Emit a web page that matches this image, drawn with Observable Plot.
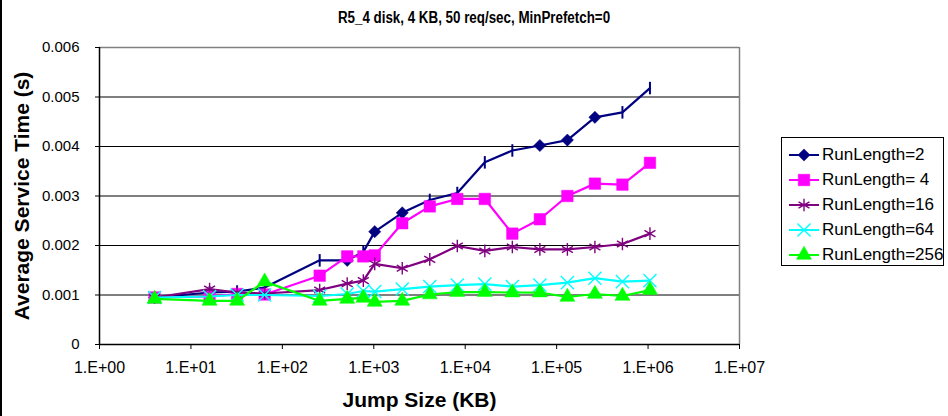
<!DOCTYPE html>
<html>
<head>
<meta charset="utf-8">
<script src="https://cdn.jsdelivr.net/npm/d3@7"></script>
<script src="https://cdn.jsdelivr.net/npm/@observablehq/plot@0.6"></script>
<style>
  body { margin: 0; background: #fff; }
  #wrap { position: relative; width: 948px; height: 416px; font-family: "Liberation Sans", Arial, sans-serif; overflow: hidden; }
  #border { position: absolute; left: 0; top: 0; width: 2px; height: 416px; background: #000; }
  #title { position: absolute; left: 0; width: 948px; top: 8px; text-align: center; font-weight: bold; font-size: 16px; line-height: 20px; transform: scaleX(0.835); }
  #legend { position: absolute; left: 781px; top: 137px; width: 163px; height: 129px; border: 1px solid #000; box-sizing: border-box; background: #fff; }
  .item { position: absolute; left: 6px; height: 22px; display: flex; align-items: center; font-size: 17px; white-space: nowrap; }
  .item svg { margin-right: 2px; }
</style>
</head>
<body>
<div id="wrap">
  <div id="border"></div>
  <div id="title">R5_4 disk, 4 KB, 50 req/sec, MinPrefetch=0</div>
  <div id="chart"></div>
  <div id="legend"></div>
</div>
<script>
// ---- data ----
const jumpSizes = [4, 16, 32, 64, 256, 512, 768, 1024, 2048, 4096, 8192, 16384, 32768, 65536, 131072, 262144, 524288, 1048576];
const runLength2   = [0.00095, 0.00105, 0.00107, 0.00115, 0.00170, 0.00170, 0.00187, 0.00228, 0.00266, 0.00292, 0.00306, 0.00368, 0.00392, 0.00402, 0.00413, 0.00459, 0.00469, 0.00518];
const runLength2Marker = ["diamond", "tick", "tick", "tick", "tick", "diamond", "tick", "diamond", "diamond", "tick", "tick", "tick", "tick", "diamond", "diamond", "diamond", "tick", "tick"];
const runLength4   = [0.00095, 0.00097, 0.00102, 0.00101, 0.00139, 0.00178, 0.00178, 0.00180, 0.00245, 0.00279, 0.00294, 0.00294, 0.00224, 0.00253, 0.00300, 0.00325, 0.00323, 0.00367];
const runLength16  = [0.00095, 0.00112, 0.00105, 0.00103, 0.00110, 0.00123, 0.00129, 0.00163, 0.00154, 0.00172, 0.00199, 0.00189, 0.00197, 0.00192, 0.00192, 0.00197, 0.00203, 0.00224];
const runLength64  = [0.00095, 0.00097, 0.00100, 0.00100, 0.00098, 0.00102, 0.00108, 0.00107, 0.00112, 0.00117, 0.00120, 0.00122, 0.00117, 0.00120, 0.00125, 0.00134, 0.00127, 0.00129];
const runLength256 = [0.00092, 0.00088, 0.00088, 0.00127, 0.00088, 0.00092, 0.00094, 0.00086, 0.00088, 0.00101, 0.00106, 0.00106, 0.00105, 0.00105, 0.00096, 0.00102, 0.00098, 0.00110];
const seriesNames = ["RunLength=2", "RunLength= 4", "RunLength=16", "RunLength=64", "RunLength=256"];
const xTicks = [1, 10, 100, 1000, 10000, 100000, 1000000, 10000000];
const xTickLabels = ["1.E+00", "1.E+01", "1.E+02", "1.E+03", "1.E+04", "1.E+05", "1.E+06", "1.E+07"];
const yTicks = [0, 0.001, 0.002, 0.003, 0.004, 0.005, 0.006];
const yTickLabels = ["0", "0.001", "0.002", "0.003", "0.004", "0.005", "0.006"];

// ---- styles ----
const tickSymbol = { draw(ctx, size) { const h = Math.sqrt(size / Math.PI) * 1.25; ctx.moveTo(0, -h); ctx.lineTo(0, h); } };
const styles = [
  { color: "#000080", symbol: "diamond2", r: 5.5, filled: true },
  { color: "#FF00FF", symbol: "square", r: 6.5, filled: true },
  { color: "#800080", symbol: "asterisk", r: 6, filled: false },
  { color: "#00FFFF", symbol: "times", r: 6, filled: false },
  { color: "#00FF00", symbol: "triangle", r: 5.6, filled: true }
];
const allValues = [runLength2, runLength4, runLength16, runLength64, runLength256];
const rows = allValues.map((vals, s) => vals.map((v, i) => ({ s, name: seriesNames[s], x: jumpSizes[i], y: v, m: s === 0 ? runLength2Marker[i] : "std" })));

const marks = [
  Plot.ruleY(yTicks.slice(1, -1), { stroke: "#000", strokeWidth: 1 }),
  Plot.ruleY([0.006], { stroke: "#808080", strokeWidth: 1.5 }),
  Plot.ruleX([1e7], { stroke: "#808080", strokeWidth: 1.5 }),
  Plot.ruleY([0], { stroke: "#000", strokeWidth: 1.5 }),
  Plot.ruleX([1], { stroke: "#000", strokeWidth: 1.5 }),
  Plot.axisX({ ticks: xTicks, tickFormat: d => xTickLabels[xTicks.indexOf(d)], tickSize: 5, tickPadding: 12, fontSize: 16, label: null, anchor: "bottom" }),
  Plot.axisY({ ticks: yTicks, tickFormat: d => yTickLabels[yTicks.indexOf(d)], tickSize: 4, tickPadding: 16, fontSize: 15, label: null, anchor: "left" }),
  Plot.text(["Jump Size (KB)"], { frameAnchor: "bottom", dy: 62, fontSize: 21, fontWeight: "bold" }),
  Plot.text(["Average Service Time (s)"], { frameAnchor: "left", textAnchor: "middle", rotate: -90, dx: -77, fontSize: 21, fontWeight: "bold" })
];
rows.forEach((data, s) => {
  const st = styles[s];
  marks.push(Plot.line(data, { x: "x", y: "y", stroke: st.color, strokeWidth: 2.2 }));
  if (s === 0) {
    marks.push(Plot.dot(data.filter(d => d.m === "diamond"), { x: "x", y: "y", symbol: "diamond2", r: st.r, fill: st.color, stroke: st.color, strokeWidth: 0.5 }));
    marks.push(Plot.dot(data.filter(d => d.m === "tick"), { x: "x", y: "y", symbol: tickSymbol, r: 5, fill: "none", stroke: st.color, strokeWidth: 2 }));
  } else if (st.filled) {
    marks.push(Plot.dot(data, { x: "x", y: "y", symbol: st.symbol, r: st.r, fill: st.color, stroke: st.color, strokeWidth: 0.5 }));
  } else {
    marks.push(Plot.dot(data, { x: "x", y: "y", symbol: st.symbol, r: st.r, fill: "none", stroke: st.color, strokeWidth: 1.4 }));
  }
});

const chart = Plot.plot({
  width: 948, height: 416,
  marginLeft: 99, marginRight: 209, marginTop: 47, marginBottom: 72,
  x: { type: "log", domain: [1, 1e7] },
  y: { domain: [0, 0.006] },
  style: { fontFamily: "'Liberation Sans', Arial, sans-serif", color: "#000", background: "transparent" },
  marks
});
document.getElementById("chart").appendChild(chart);

// ---- legend ----
const legend = document.getElementById("legend");
const symMap = { diamond2: d3.symbolDiamond2, square: d3.symbolSquare, asterisk: d3.symbolAsterisk, times: d3.symbolTimes, triangle: d3.symbolTriangle };
seriesNames.forEach((name, s) => {
  const st = styles[s];
  const path = d3.symbol(symMap[st.symbol], st.r * st.r * Math.PI)();
  const item = document.createElement("div");
  item.className = "item";
  item.style.top = (6 + s * 25) + "px";
  item.innerHTML = `<svg width="32" height="20"><line x1="1" x2="31" y1="10" y2="10" stroke="${st.color}" stroke-width="2"/>` +
    `<path transform="translate(16,10)" d="${path}" fill="${st.filled ? st.color : "none"}" stroke="${st.color}" stroke-width="${st.filled ? 0.5 : 1.4}"/></svg><span>${name}</span>`;
  legend.appendChild(item);
});
</script>
</body>
</html>
